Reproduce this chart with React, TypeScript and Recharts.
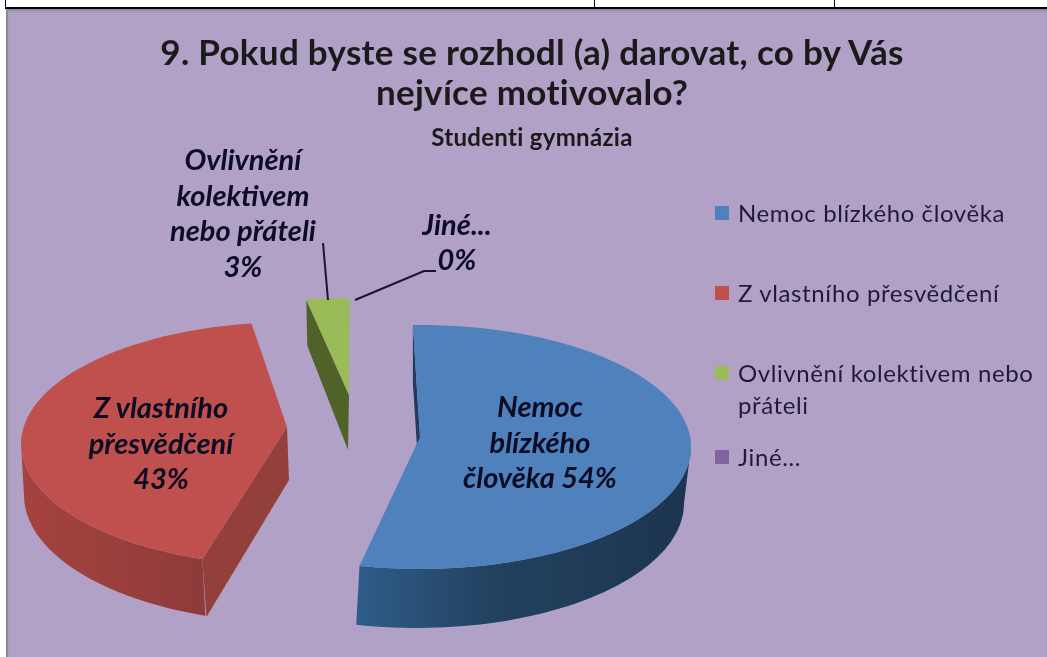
import React from "react";
import { PieChart, Pie, Legend } from "recharts";

const categories = ["Nemoc blízkého člověka", "Z vlastního přesvědčení", "Ovlivnění kolektivem nebo přáteli", "Jiné..."];
const shares = [54, 43, 3, 0];
const faceColors = ["#4F81BD", "#C0504D", "#9BBB59", "#8064A2"];
const titleLines = ["9. Pokud byste se rozhodl (a) darovat, co by Vás", "nejvíce motivovalo?"];
const subtitle = "Studenti gymnázia";
const labelLines = [
  ["Nemoc", "blízkého", "člověka 54%"],
  ["Z vlastního", "přesvědčení", "43%"],
  ["Ovlivnění", "kolektivem", "nebo přáteli", "3%"],
  ["Jiné...", "0%"],
];

const data = categories.map((name, i) => ({ name, value: shares[i], fill: faceColors[i] }));

const W = 1047;
const H = 657;
const TILT = 122 / 271;
const FONT = "Lato, Carlito, 'Open Sans', sans-serif";

type Layout = {
  dx: number; dy: number; vx: number; vy: number; ds: number; de: number;
  near: [number, number]; far: [number, number]; edgeColor: string;
  wallFrom?: number; bottom?: { dx: number; dy: number; rx: number; ry: number }; wallStops?: string[];
};

const sliceLayout: Layout[] = [
  { dx: 0, dy: 0, vx: 0, vy: -10, ds: 0, de: 0, near: [0, 58], far: [0, 58], edgeColor: "#1F3B5E",
    wallFrom: 0, bottom: { dx: -4, dy: 56, rx: 268, ry: 125 }, wallStops: ["#2F5C8A", "#23425F", "#1C3450"] },
  { dx: -128, dy: -3, vx: -5, vy: -17, ds: -6.4, de: -3.7, near: [2, 53], far: [4, 58], edgeColor: "#933F3C",
    wallFrom: -180, bottom: { dx: 3, dy: 51, rx: 271, ry: 128 }, wallStops: ["#A5423F", "#9C403D", "#8E3B3A"] },
  { dx: -68, dy: -27, vx: -3, vy: -25, ds: -2.6, de: -1, near: [-1, 55], far: [1, 46], edgeColor: "#4F6228" },
  { dx: -68, dy: -27, vx: -3, vy: -25, ds: 0, de: 0, near: [0, 0], far: [0, 0], edgeColor: "none" },
];

const labelLayout = [
  { x: 540, y: 417, step: 35.5 },
  { x: 161, y: 418, step: 35.5 },
  { x: 243, y: 170, step: 35.5 },
  { x: 457, y: 235, step: 35 },
];
const leaderLines = [null, null, "323,243 328,300", "355,300 424,271 436,271"];
const legendCenters = [213, 293, 373, 457];

const rad = (a: number) => (a * Math.PI) / 180;

function arc(cx: number, cy: number, rx: number, ry: number, a0: number, a1: number) {
  const n = Math.max(2, Math.ceil(Math.abs(a1 - a0) / 2));
  const pts: [number, number][] = [];
  for (let i = 0; i <= n; i++) {
    const a = a0 + ((a1 - a0) * i) / n;
    pts.push([cx + rx * Math.cos(rad(a)), cy - ry * Math.sin(rad(a))]);
  }
  return pts;
}
const toPath = (pts: [number, number][]) =>
  "M" + pts.map((p) => `${p[0].toFixed(1)},${p[1].toFixed(1)}`).join("L") + "Z";

function Slice3D(props: any) {
  const i = categories.indexOf(props.name);
  const g = sliceLayout[i];
  if (!(props.value > 0)) return <g />;
  const rx = props.outerRadius;
  const ry = rx * TILT;
  const ex = props.cx + g.dx;
  const ey = props.cy + g.dy;
  const a0 = props.startAngle + g.ds;
  const a1 = props.endAngle + g.de;
  const top = arc(ex, ey, rx, ry, a0, a1);
  const v: [number, number] = [ex + g.vx, ey + g.vy];
  const s = top[0];
  const edge: [number, number][] = [
    s, v, [v[0] + g.near[0], v[1] + g.near[1]], [s[0] + g.far[0], s[1] + g.far[1]],
  ];
  let wall: string | null = null;
  if (g.bottom && g.wallFrom !== undefined) {
    const b = g.bottom;
    const lowerEnd = i === 0 ? a1 : a0;
    const u = arc(ex, ey, rx, ry, g.wallFrom, lowerEnd);
    const l = arc(ex + b.dx, ey + b.dy, b.rx, b.ry, lowerEnd, g.wallFrom);
    wall = toPath([...u, ...l]);
  }
  const gid = `wall-${i}`;
  return (
    <g>
      {g.wallStops && (
        <defs>
          <linearGradient id={gid} x1="0" x2="1" y1="0" y2="0">
            <stop offset="0" stopColor={g.wallStops[0]} />
            <stop offset="0.4" stopColor={g.wallStops[1]} />
            <stop offset="1" stopColor={g.wallStops[2]} />
          </linearGradient>
        </defs>
      )}
      <path d={toPath(edge)} fill={g.edgeColor} />
      {wall && <path d={wall} fill={`url(#${gid})`} />}
      <path d={toPath([v, ...top])} fill={props.fill} />
    </g>
  );
}

function renderLabel(props: any) {
  const i = props.index;
  const p = labelLayout[i];
  const line = leaderLines[i];
  return (
    <g key={i}>
      {line && <polyline points={line} fill="none" stroke="#15153A" strokeWidth={2} />}
      {labelLines[i].map((t, k) => (
        <text key={k} x={p.x} y={p.y + k * p.step} textAnchor="middle" fontFamily={FONT}
          fontWeight={700} fontStyle="italic" fontSize={29} fill="#0C0C24">
          {t}
        </text>
      ))}
    </g>
  );
}

function LegendBox({ payload }: any) {
  return (
    <div style={{ position: "relative", width: 330, height: 300, fontFamily: FONT, fontSize: 24, color: "#1E1B38" }}>
      {(payload || []).map((e: any, i: number) => (
        <React.Fragment key={i}>
          <div style={{ position: "absolute", left: 2, top: legendCenters[i] - 7 - 190, width: 14, height: 14, background: e.color }} />
          <div style={{ position: "absolute", left: 25, top: legendCenters[i] - 16 - 190, width: 305, lineHeight: "32px", letterSpacing: 0.6 }}>
            {e.value}
          </div>
        </React.Fragment>
      ))}
    </div>
  );
}

export default function App() {
  return (
    <div style={{ position: "absolute", left: 0, top: 0, width: W, height: H, background: "#fff", overflow: "hidden" }}>
      <div style={{ position: "absolute", left: 8, top: 9, width: W - 8, height: H - 9, background: "#B2A1C7", boxShadow: "inset 0 3px 3px -1px #8f82a3" }} />
      <div style={{ position: "absolute", left: 6, top: 9, width: 2, height: H - 9, background: "#8C8C8C" }} />
      <div style={{ position: "absolute", left: 5, top: 7, width: W - 5, height: 2, background: "#000" }} />
      <div style={{ position: "absolute", left: 5, top: 0, width: 1, height: 8, background: "#000" }} />
      <div style={{ position: "absolute", left: 594, top: 0, width: 1, height: 8, background: "#000" }} />
      <div style={{ position: "absolute", left: 834, top: 0, width: 1, height: 8, background: "#000" }} />
      <div style={{ position: "absolute", left: 0, top: 0, filter: "blur(0.6px)" }}>
        <PieChart width={W} height={H} margin={{ top: 0, right: 0, bottom: 0, left: 0 }}>
          <text x={532} y={65} textAnchor="middle" fontFamily={FONT} fontWeight={700} fontSize={35} letterSpacing={0.3} fill="#1A1A1A">{titleLines[0]}</text>
          <text x={532} y={105} textAnchor="middle" fontFamily={FONT} fontWeight={700} fontSize={35} letterSpacing={0.3} fill="#1A1A1A">{titleLines[1]}</text>
          <text x={532} y={146} textAnchor="middle" fontFamily={FONT} fontWeight={700} fontSize={24} letterSpacing={0.3} fill="#1A1A1A">{subtitle}</text>
          <Pie data={data} dataKey="value" nameKey="name" cx={420} cy={447} innerRadius={0} outerRadius={271}
            startAngle={91.5} endAngle={-268.5} stroke="none" isAnimationActive={false}
            shape={Slice3D} label={renderLabel} labelLine={false} />
          <Legend content={<LegendBox />} itemSorter={null} wrapperStyle={{ position: "absolute", left: 713, top: 190, width: 330, height: 300 }} />
        </PieChart>
      </div>
    </div>
  );
}
